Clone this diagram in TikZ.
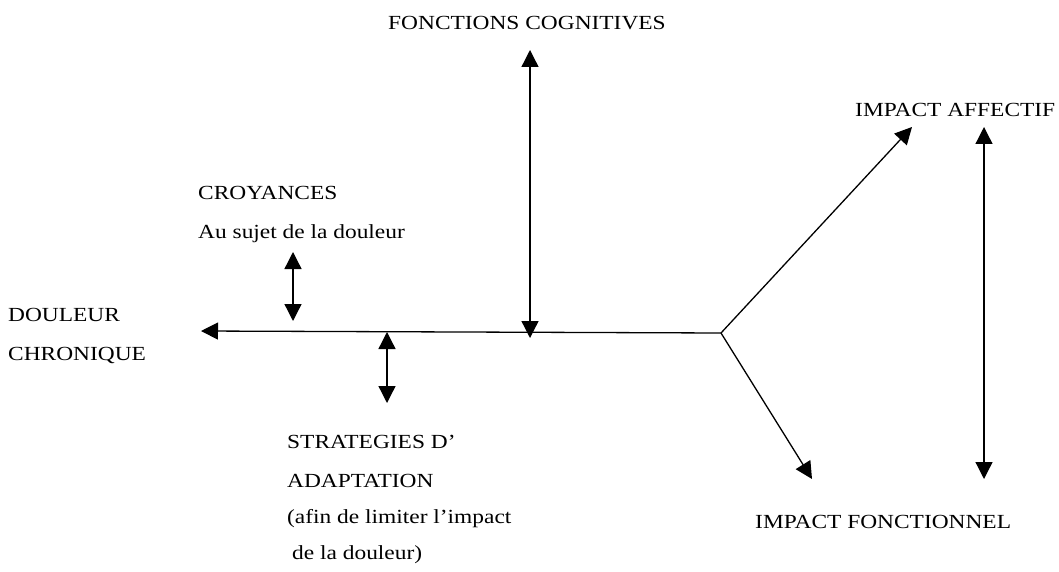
\documentclass[tikz,border=0pt]{standalone}
\usepackage{fontspec}
\setmainfont{Liberation Serif}[FakeStretch=1.17]
\usetikzlibrary{arrows.meta}
\begin{document}
\begin{tikzpicture}[x=1pt,y=-1pt,
  lbl/.style={inner sep=0pt,anchor=base west,font=\fontsize{20}{24}\selectfont},
  conn/.style={line width=1.3pt,-{Triangle[length=17pt,width=17pt]}},
  dbl/.style={line width=1.3pt,{Triangle[length=17pt,width=17pt]}-{Triangle[length=17pt,width=17pt]}}]
\useasboundingbox (0,0) rectangle (1059,572);
% labels
\node[lbl] (fc) at (388,30) {FONCTIONS COGNITIVES};
\node[lbl] (ia) at (855,117) {IMPACT AFFECTIF};
\node[lbl] (cr1) at (198,200) {CROYANCES};
\node[lbl] (cr2) at (198,238) {Au sujet de la douleur};
\node[lbl] (dc1) at (8,321) {DOULEUR};
\node[lbl] (dc2) at (8,360) {CHRONIQUE};
\node[lbl] (st1) at (287,448) {STRATEGIES D'};
\node[lbl] (st2) at (287,487) {ADAPTATION};
\node[lbl] (st3) at (287,523) {(afin de limiter l'impact};
\node[lbl] (st4) at (292,559) {de la douleur)};
\node[lbl] (ifn) at (755,528) {IMPACT FONCTIONNEL};
% coordinates
\coordinate (j) at (721,333);
\coordinate (l) at (201,331);
\coordinate (fcT) at (530,50);
\coordinate (fcB) at (530,338);
\coordinate (crT) at (293,252);
\coordinate (crB) at (293,321);
\coordinate (stT) at (387,332);
\coordinate (stB) at (387,403);
\coordinate (up) at (912,127);
\coordinate (dn) at (812,479);
\coordinate (vT) at (984,127);
\coordinate (vB) at (984,479);
% connectors
\draw[conn] (j) -- (l);
\draw[conn] (j) -- (up);
\draw[conn] (j) -- (dn);
\draw[dbl] (fcT) -- (fcB);
\draw[dbl] (crT) -- (crB);
\draw[dbl] (stT) -- (stB);
\draw[dbl] (vT) -- (vB);
\end{tikzpicture}
\end{document}
